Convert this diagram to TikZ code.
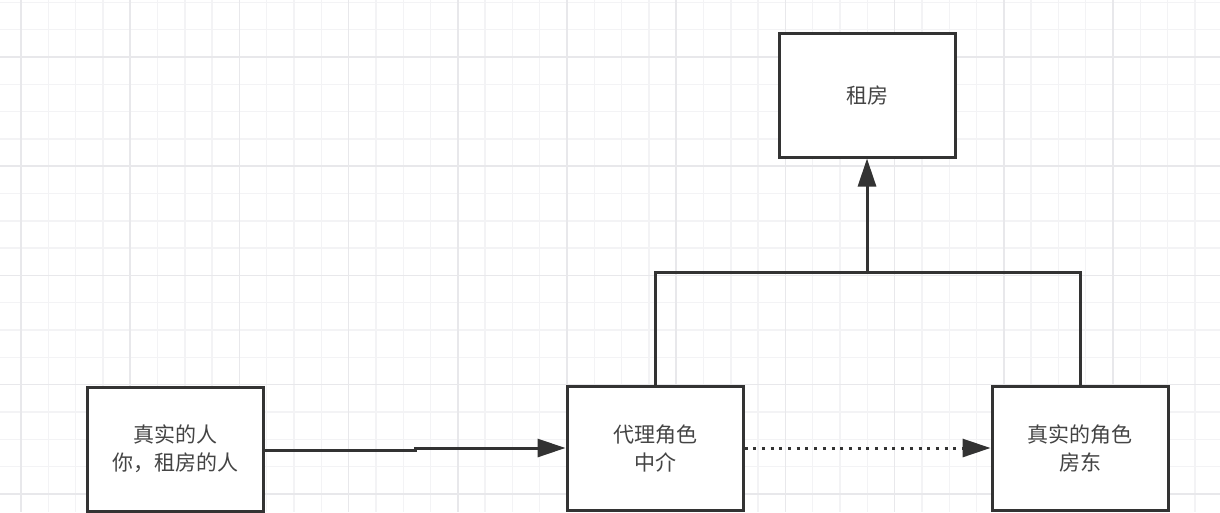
\documentclass[tikz,border=0pt]{standalone}
\usepackage{fontspec}
\setmainfont{Noto Sans CJK SC}
\usetikzlibrary{arrows.meta}
\definecolor{ink}{HTML}{333333}
\definecolor{txt}{HTML}{444444}
\definecolor{gridminor}{HTML}{F3F3F5}
\definecolor{gridmajor}{HTML}{E8E8EB}
\begin{document}
\begin{tikzpicture}[x=1pt,y=-1pt,
  box/.style={draw=ink,line width=3pt,fill=white,minimum width=176pt,minimum height=124pt,inner sep=0pt,align=center,font=\fontsize{21}{28}\selectfont,text=txt},
  conn/.style={draw=ink,line width=3pt},
  tip/.style={-{Triangle[length=28pt,width=18pt]}},
  minorline/.style={draw=gridminor,line width=1.4pt},
  majorline/.style={draw=gridmajor,line width=1.6pt}]
\useasboundingbox (0,0) rectangle (1220,512);
\fill[white] (0,0) rectangle (1220,512);
\begin{scope}
\clip (0,0) rectangle (1220,512);
\foreach \k in {-1,...,44} \draw[minorline] (21+27.3*\k,0) -- (21+27.3*\k,512);
\foreach \k in {-3,...,17} \draw[minorline] (0,57+27.3*\k) -- (1220,57+27.3*\k);
\foreach \k in {0,...,10} \draw[majorline] (21+109.2*\k,0) -- (21+109.2*\k,512);
\foreach \k in {0,...,4} \draw[majorline] (0,57+109.2*\k) -- (1220,57+109.2*\k);
\end{scope}

\node[box] (T) at (867,95) {租房};
\node[box] (L) at (175,449) {真实的人\\你，租房的人};
\node[box] (M) at (655,448) {代理角色\\中介};
\node[box] (R) at (1080,448) {真实的角色\\房东};

\coordinate (J) at (867,272);
\coordinate (K) at (415,450);
\draw[conn] (M.north) -- (M.north |- J) -- (R.north |- J) -- (R.north);
\draw[conn,tip] (J) -- (T.south);
\draw[conn,tip] (L.east |- K) -- (K) |- (M.west);
\draw[conn,tip,dash pattern=on 3pt off 5.7pt] (M.east) -- (R.west);
\end{tikzpicture}
\end{document}
